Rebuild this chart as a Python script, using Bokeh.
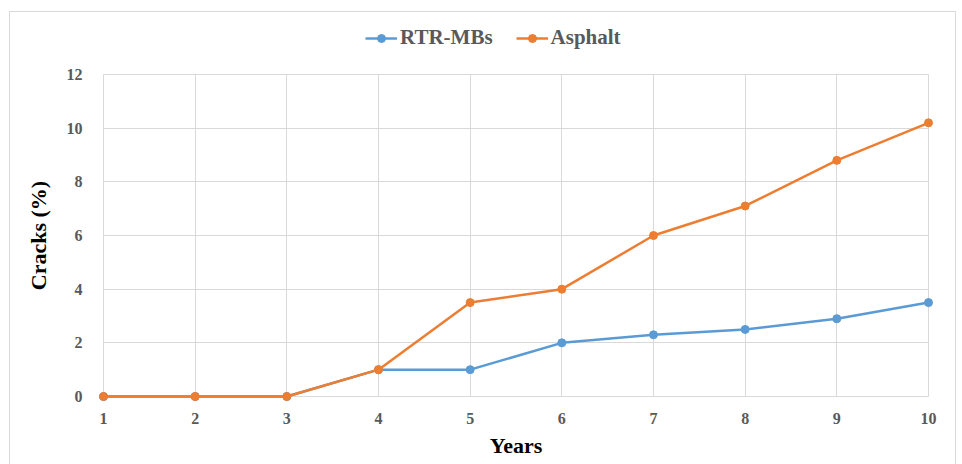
from bokeh.plotting import figure
from bokeh.layouts import column
from bokeh.models import Legend, LegendItem, Range1d, FixedTicker
from bokeh.embed import file_html
from bokeh.resources import INLINE

years = [1, 2, 3, 4, 5, 6, 7, 8, 9, 10]
rtr_mbs = [0, 0, 0, 1, 1, 2, 2.3, 2.5, 2.9, 3.5]
asphalt = [0, 0, 0, 1, 3.5, 4, 6, 7.1, 8.8, 10.2]
y_ticks = [0, 2, 4, 6, 8, 10, 12]
series_names = ["RTR-MBs", "Asphalt"]

BLUE = "#5B9BD5"
ORANGE = "#ED7D31"
FONT = "Liberation Serif"
GRID = "#d9d9d9"

# ---- legend strip (top); its ranges keep the key renderers out of view ----
lg = figure(width=945, height=52, output_backend="svg", toolbar_location=None,
            x_range=Range1d(100, 101), y_range=Range1d(100, 101),
            x_axis_type=None, y_axis_type=None,
            min_border_left=0, min_border_right=0, min_border_top=0, min_border_bottom=0)
lg.outline_line_color = None
k1l = lg.line(years, rtr_mbs, line_color=BLUE, line_width=2.5)
k1c = lg.scatter(years, rtr_mbs, size=6, color=BLUE)
k2l = lg.line(years, asphalt, line_color=ORANGE, line_width=2.5)
k2c = lg.scatter(years, asphalt, size=6, color=ORANGE)
legend = Legend(items=[LegendItem(label=series_names[0], renderers=[k1l, k1c]),
                       LegendItem(label=series_names[1], renderers=[k2l, k2c])],
                orientation="horizontal", location=(262, 14),
                label_text_font=FONT, label_text_font_style="bold",
                label_text_font_size="21px", label_text_color="#595959",
                border_line_color=None, background_fill_alpha=0,
                glyph_width=32, glyph_height=20, spacing=23, label_standoff=3,
                margin=0, padding=0)
lg.add_layout(legend, "center")

# ---- main chart ----
p = figure(width=945, height=400, output_backend="svg", toolbar_location=None,
           x_range=Range1d(1, 10), y_range=Range1d(0, 12),
           min_border_left=93, min_border_right=27, min_border_top=10, min_border_bottom=68)

p.line(years, rtr_mbs, line_color=BLUE, line_width=2.5, level="overlay")
p.scatter(years, rtr_mbs, size=8, color=BLUE, level="overlay")
p.line(years, asphalt, line_color=ORANGE, line_width=2.5, level="overlay")
p.scatter(years, asphalt, size=8, color=ORANGE, level="overlay")

p.outline_line_color = GRID
p.xaxis.ticker = FixedTicker(ticks=years)
p.yaxis.ticker = FixedTicker(ticks=y_ticks)
for ax in (p.xaxis, p.yaxis):
    ax.axis_line_color = None
    ax.major_tick_line_color = None
    ax.minor_tick_line_color = None
    ax.major_label_text_font = FONT
    ax.major_label_text_font_style = "bold"
    ax.major_label_text_font_size = "16px"
    ax.major_label_text_color = "#595959"
    ax.axis_label_text_font = FONT
    ax.axis_label_text_font_style = "bold"
    ax.axis_label_text_font_size = "22px"
    ax.axis_label_text_color = "#000000"
p.xaxis.axis_label = "Years"
p.yaxis.axis_label = "Cracks (%)"
p.xaxis.major_label_standoff = 10
p.yaxis.major_label_standoff = 15
p.xaxis.axis_label_standoff = 6
p.yaxis.axis_label_standoff = 13
p.grid.grid_line_color = GRID
p.grid.grid_line_width = 1

layout = column(lg, p, spacing=0,
                styles={"border": "1px solid #d9d9d9", "margin": "11px 0 0 9px"})

open("out.html", "w").write(file_html(layout, INLINE))
